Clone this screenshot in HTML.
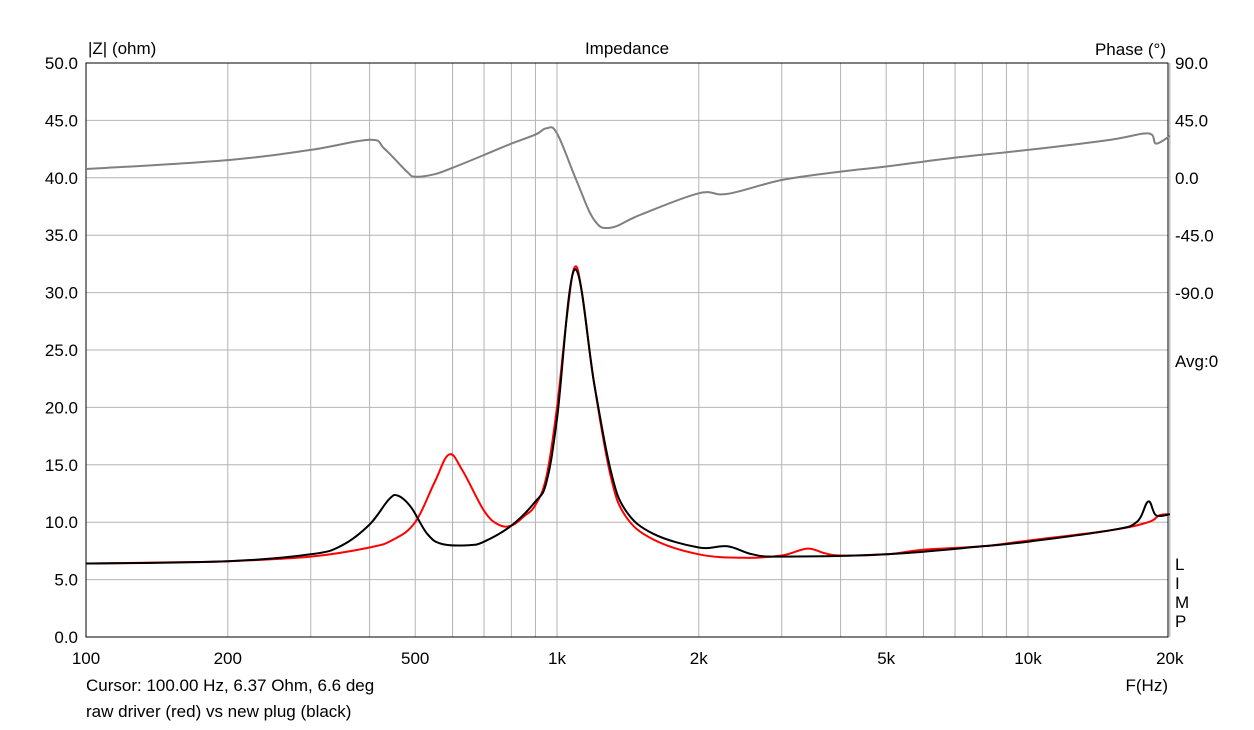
<!DOCTYPE html>
<html><head><meta charset="utf-8"><style>
body{margin:0;background:#fff;overflow:hidden;}
svg text{font-family:"Liberation Sans",sans-serif;font-size:17px;fill:#000;}
</style></head><body>
<svg id="chart" width="1254" height="725" xmlns="http://www.w3.org/2000/svg">
<g id="grid"></g>
<rect x="86" y="63" width="1082" height="574" fill="none" stroke="#000"/>
<g id="series"></g>
<g id="labels"></g>
<text x="88" y="54">|Z| (ohm)</text>
<text x="627" y="54" text-anchor="middle">Impedance</text>
<text x="1166" y="55" text-anchor="end">Phase (°)</text>
<text x="1175" y="367">Avg:0</text>
<text x="1175" y="570">L</text>
<text x="1175" y="589">I</text>
<text x="1175" y="608">M</text>
<text x="1175" y="627">P</text>
<text x="1168" y="691" text-anchor="end">F(Hz)</text>
<text x="86" y="691">Cursor: 100.00 Hz, 6.37 Ohm, 6.6 deg</text>
<text x="86" y="717">raw driver (red) vs new plug (black)</text>
</svg>
<script>
const xTicks=[100,200,500,1000,2000,5000,10000,20000];
const xTickLabels=["100","200","500","1k","2k","5k","10k","20k"];
const yTicks=[0,5,10,15,20,25,30,35,40,45,50];
const phaseTicks=[90,45,0,-45,-90];
const redF=[100,150,200,300,400,450,500,550,590,630,700,750,800,850,900,950,1000,1050,1090,1130,1200,1300,1400,1600,2000,2500,3000,3400,3700,4000,5000,6000,8000,10000,15000,18000,19000,20000];
const redZ=[6.4,6.5,6.6,7.0,7.8,8.5,10.0,13.5,15.9,14.5,11,9.8,9.7,10.5,11.5,14,20,28,32.2,30,22,14,10.5,8.5,7.2,6.9,7.1,7.7,7.3,7.1,7.2,7.6,7.9,8.4,9.3,10,10.6,10.7];
const blackF=[100,200,300,350,400,440,460,490,530,570,650,700,800,900,950,1000,1090,1200,1300,1400,1600,2000,2300,2600,3000,5000,8000,10000,15000,17000,18000,18700,20000];
const blackZ=[6.4,6.6,7.2,8,9.8,12,12.3,11.3,9,8.1,8,8.3,9.7,11.8,13.5,19,32,22,14.5,11,9,7.8,7.9,7.2,7.0,7.2,7.9,8.3,9.3,10,11.8,10.6,10.7];
const phaseF=[100,200,300,400,430,480,500,550,600,700,800,900,950,1000,1100,1200,1300,1500,2000,2300,3000,4000,5000,7000,10000,15000,18000,18700,20000];
const phaseDeg=[7,14,22,30,23,5,1,3,8,18,27,34,39,35,-2,-33,-39,-29,-12,-12.5,-1.6,5,9,16,22,30,35,27,33];
const NS="http://www.w3.org/2000/svg";
const X=f=>86+Math.log10(f/100)*471;
const Y=z=>637-z*11.48;
const P=d=>178-d*57.4/45;
function el(t,a,parent){const e=document.createElementNS(NS,t);for(const k in a)e.setAttribute(k,a[k]);parent.appendChild(e);return e;}
const grid=document.getElementById('grid'),lab=document.getElementById('labels'),ser=document.getElementById('series');
const vlines=[];for(let d=100;d<=10000;d*=10)for(let m=1;m<10;m++)if(d*m<=20000)vlines.push(d*m);vlines.push(20000);
vlines.forEach(f=>{const l=el('line',{x1:X(f),x2:X(f),y1:63,y2:637,stroke:'#b4b4b4'},grid);

});
yTicks.forEach(z=>{const l=el('line',{x1:86,x2:1168,y1:Y(z),y2:Y(z),stroke:'#b4b4b4'},grid);


const t=el('text',{x:78,y:Y(z)+6,'text-anchor':'end'},lab);t.textContent=z.toFixed(1);

});
phaseTicks.forEach(d=>{const t=el('text',{x:1175,y:P(d)+6},lab);t.textContent=d.toFixed(1);

});
xTicks.forEach((f,i)=>{const t=el('text',{x:X(f),y:664,'text-anchor':'middle'},lab);t.textContent=xTickLabels[i];

});
function path(fs,vs,fy,color,name){
const pts=fs.map((f,i)=>[X(f),fy(vs[i])]);
let d='M'+pts[0][0].toFixed(1)+','+pts[0][1].toFixed(1);
for(let i=0;i<pts.length-1;i++){
const p0=pts[Math.max(0,i-1)],p1=pts[i],p2=pts[i+1],p3=pts[Math.min(pts.length-1,i+2)];
const t=0.18;
const c1=[p1[0]+(p2[0]-p0[0])*t,p1[1]+(p2[1]-p0[1])*t];
const c2=[p2[0]-(p3[0]-p1[0])*t,p2[1]-(p3[1]-p1[1])*t];
d+='C'+c1[0].toFixed(1)+','+c1[1].toFixed(1)+' '+c2[0].toFixed(1)+','+c2[1].toFixed(1)+' '+p2[0].toFixed(1)+','+p2[1].toFixed(1);}
const p=el('path',{d:d,fill:'none',stroke:color,'stroke-width':2,'stroke-linejoin':'round'},ser);

}
path(phaseF,phaseDeg,P,'#808080','phase-line');
path(redF,redZ,Y,'#ff0000','raw-driver-impedance');
path(blackF,blackZ,Y,'#000000','new-plug-impedance');
</script>
</body></html>
